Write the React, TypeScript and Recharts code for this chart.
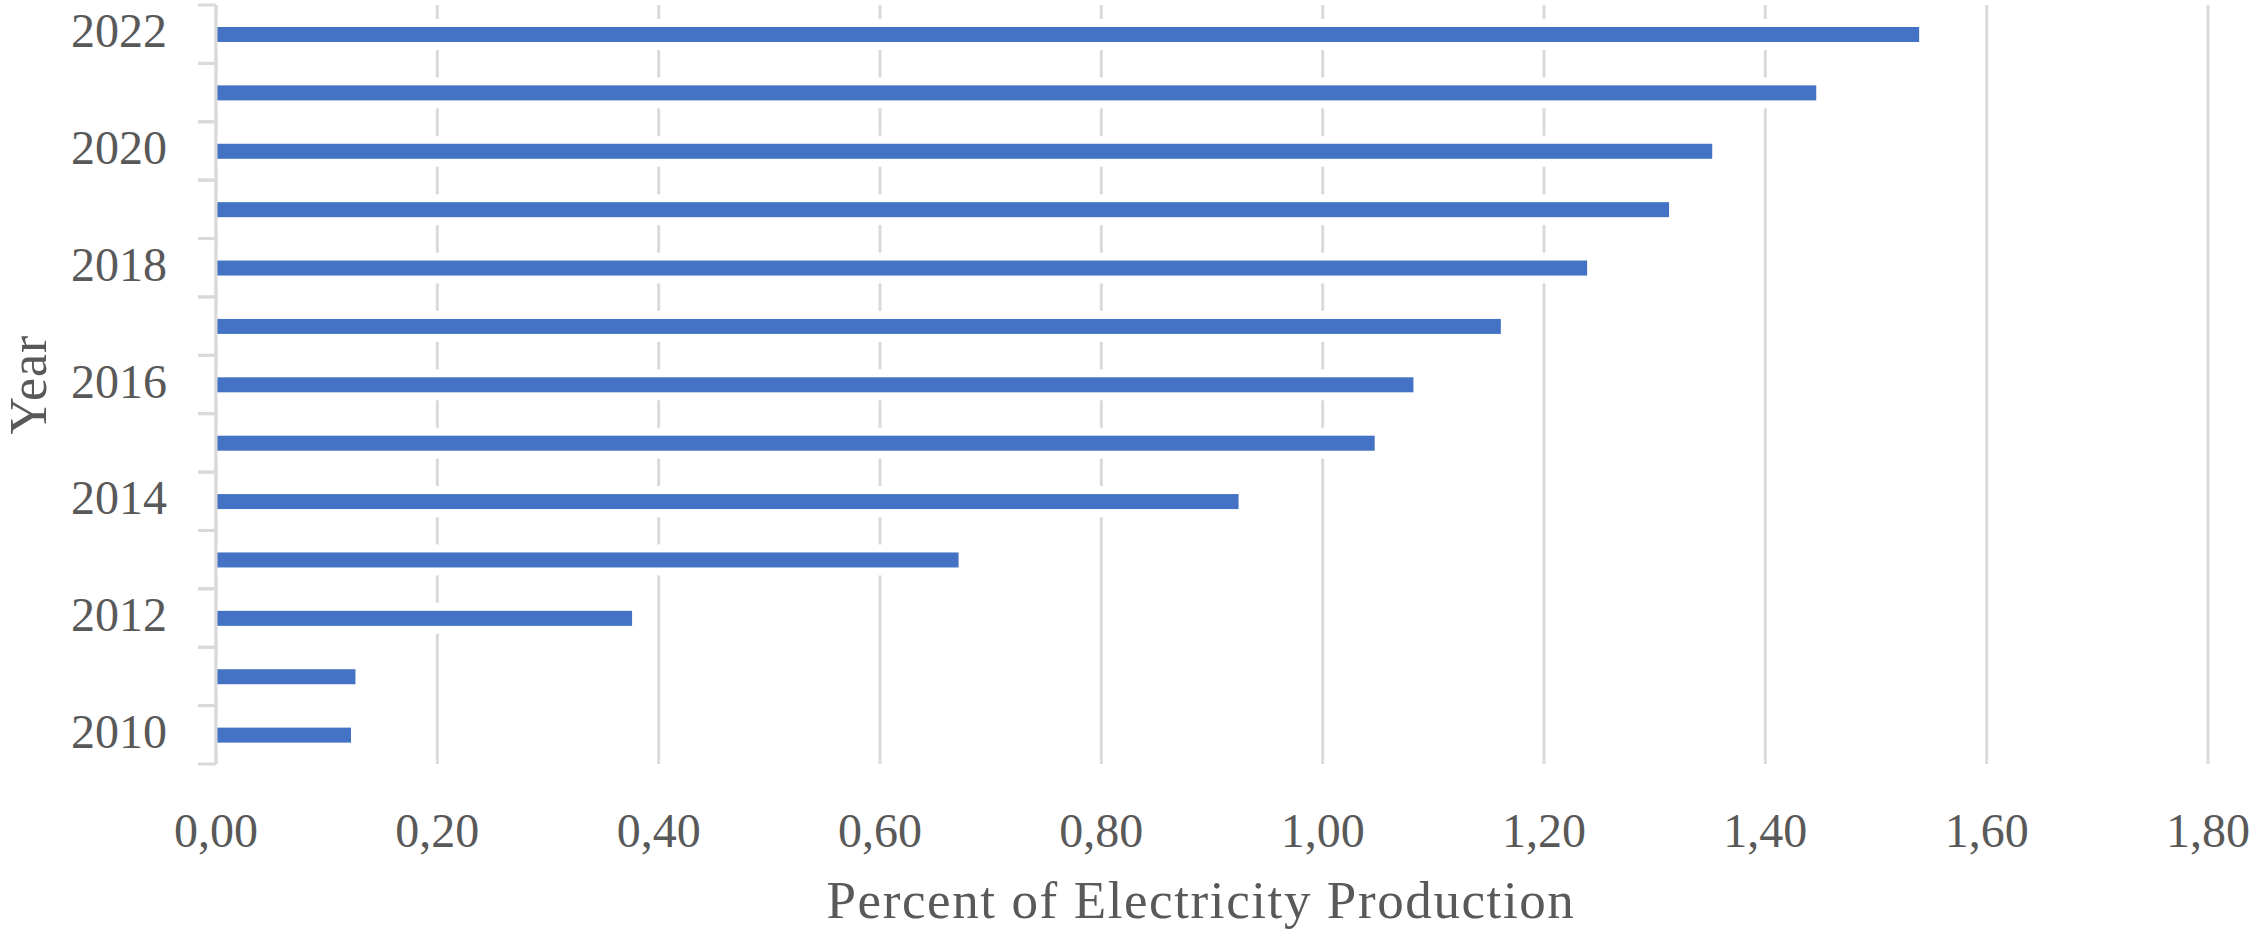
import { BarChart, Bar, XAxis, YAxis, CartesianGrid } from 'recharts';

const years = ['2010', '2011', '2012', '2013', '2014', '2015', '2016', '2017', '2018', '2019', '2020', '2021', '2022'];
const shares = [0.122, 0.126, 0.376, 0.671, 0.924, 1.047, 1.082, 1.161, 1.239, 1.313, 1.352, 1.446, 1.539];
const xTicks = [0, 0.2, 0.4, 0.6, 0.8, 1.0, 1.2, 1.4, 1.6, 1.8];

const data = years.map((year, i) => ({ year, share: shares[i] }));

const WIDTH = 2250;
const HEIGHT = 939;
const MARGIN = { top: 5, right: 42, bottom: 0, left: 0 };
const Y_AXIS_W = 216;
const X_AXIS_H = 175;
const BAND = (HEIGHT - MARGIN.top - MARGIN.bottom - X_AXIS_H) / years.length;

const FONT = '"Liberation Serif", "Times New Roman", serif';
const TEXT = '#595959';
const GRID = '#d9d9d9';
const BLUE = '#4472c4';

const fmt = (v: number) => v.toFixed(2).replace('.', ',');

// Excel-style category ticks: marks sit on the band edges, labels on every other year
function YearTick(props: any) {
  const { x, y, payload } = props;
  const even = Number(payload.value) % 2 === 0;
  return (
    <g>
      <line x1={x - 18} x2={x} y1={y - BAND / 2} y2={y - BAND / 2} stroke={GRID} strokeWidth={3} />
      <line x1={x - 18} x2={x} y1={y + BAND / 2} y2={y + BAND / 2} stroke={GRID} strokeWidth={3} />
      {even && (
        <text x={x - 49} y={y} dy={13} textAnchor="end" fill={TEXT} fontSize={48} fontFamily={FONT}>
          {payload.value}
        </text>
      )}
    </g>
  );
}

function ValueTick(props: any) {
  const { x, y, payload } = props;
  return (
    <text x={x} y={y} dy={83} textAnchor="middle" fill={TEXT} fontSize={48} fontFamily={FONT}>
      {fmt(payload.value)}
    </text>
  );
}

// white halo above/below each bar so the gridlines look broken around it
function ClearedBar(props: any) {
  const { x, y, width, height, fill } = props;
  if (!width) return null;
  return (
    <g>
      <rect x={x} y={y - 8} width={width} height={height + 16} fill="#fff" />
      <rect x={x} y={y} width={width} height={height} fill={fill} />
    </g>
  );
}

function ValueLabel(props: any) {
  const vb = props.viewBox || {};
  const cx = (vb.x || 0) + (vb.width || 0) / 2 - 11;
  return (
    <text
      x={cx}
      y={918}
      textAnchor="middle"
      fill={TEXT}
      fontSize={53}
      letterSpacing={1.6}
      fontFamily={FONT}
    >
      Percent of Electricity Production
    </text>
  );
}

function YearLabel(props: any) {
  const vb = props.viewBox || {};
  const cy = (vb.y || 0) + (vb.height || 0) / 2;
  const cx = 28;
  return (
    <text
      x={cx}
      y={cy}
      transform={`rotate(-90, ${cx}, ${cy})`}
      textAnchor="middle"
      dominantBaseline="central"
      fill={TEXT}
      fontSize={52}
      letterSpacing={1}
      fontFamily={FONT}
    >
      Year
    </text>
  );
}

export default function App() {
  return (
    <div style={{ position: 'absolute', left: 0, top: 0, background: '#fff' }}>
      <BarChart width={WIDTH} height={HEIGHT} data={data} layout="vertical" margin={MARGIN} barSize={15}>
        <CartesianGrid vertical horizontal={false} stroke={GRID} strokeWidth={3} />
        <XAxis
          type="number"
          domain={[0, 1.8]}
          ticks={xTicks}
          interval={0}
          height={X_AXIS_H}
          axisLine={false}
          tickLine={false}
          tickSize={0}
          tickMargin={0}
          tick={<ValueTick />}
          label={<ValueLabel />}
        />
        <YAxis
          type="category"
          dataKey="year"
          reversed
          width={Y_AXIS_W}
          interval={0}
          axisLine={{ stroke: GRID, strokeWidth: 3 }}
          tickLine={false}
          tickSize={0}
          tickMargin={0}
          tick={<YearTick />}
          label={<YearLabel />}
        />
        <Bar dataKey="share" fill={BLUE} shape={<ClearedBar />} isAnimationActive={false} />
      </BarChart>
    </div>
  );
}
